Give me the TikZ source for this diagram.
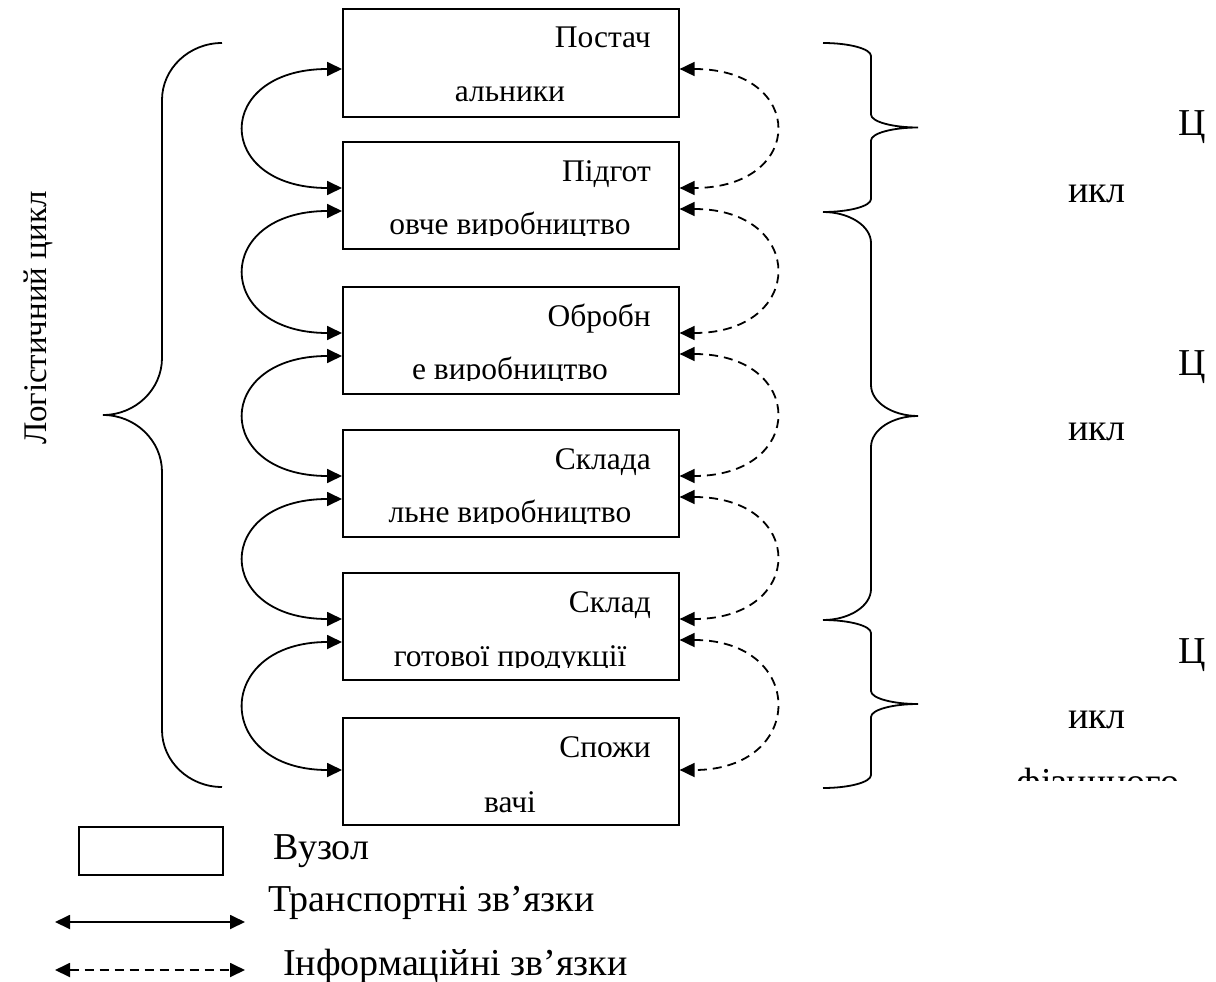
\documentclass[tikz,border=0pt]{standalone}
\usepackage{fontspec}
\setmainfont{Liberation Serif}
\usetikzlibrary{arrows.meta}

% brace: #1 end x, #2 stem x, #3 tip x, #4 top y, #5 bottom y, #6 corner radius
\newcommand\drawcurlybrace[6]{%
  \pgfmathsetmacro\bracemid{(#4+#5)/2}%
  \draw[bracestyle]
    (#1,#4) .. controls ({#1+0.55*(#2-#1)},#4) and (#2,{#4+0.45*#6}) .. (#2,{#4+#6})
    -- (#2,{\bracemid-#6})
    .. controls (#2,{\bracemid-0.45*#6}) and ({#3-0.55*(#3-#2)},\bracemid) .. (#3,\bracemid)
    .. controls ({#3-0.55*(#3-#2)},\bracemid) and (#2,{\bracemid+0.45*#6}) .. (#2,{\bracemid+#6})
    -- (#2,{#5-#6})
    .. controls (#2,{#5-0.45*#6}) and ({#1+0.55*(#2-#1)},#5) .. (#1,#5);%
}

\tikzset{
  nodebox/.style={draw, line width=1.6pt, minimum width=336pt, minimum height=107pt,
    inner sep=0pt, anchor=north west},
  legendbox/.style={draw, line width=1.6pt, minimum width=144pt, minimum height=48pt,
    inner sep=0pt, anchor=north west},
  boxtext/.style={font=\fontsize{31.5}{38}\selectfont, inner sep=0pt},
  bigtext/.style={font=\fontsize{38}{45}\selectfont, inner sep=0pt},
  transport/.style={line width=1.8pt, {Triangle[length=15pt,width=14pt]}-{Triangle[length=15pt,width=14pt]}},
  information/.style={line width=1.8pt, dash pattern=on 9pt off 6pt,
    {Triangle[length=15pt,width=14pt]}-{Triangle[length=15pt,width=14pt]}},
  bracestyle/.style={line width=1.8pt},
}

\begin{document}
\begin{tikzpicture}[x=1pt,y=-1pt]
\useasboundingbox (0,0) rectangle (1216,982);

% nodes of the chain
\node[nodebox, minimum height=108pt] (b1) at (342,8) {};
\node[nodebox] (b2) at (342,141) {};
\node[nodebox] (b3) at (342,286) {};
\node[nodebox] (b4) at (342,429) {};
\node[nodebox] (b5) at (342,572) {};
\node[nodebox] (b6) at (342,717) {};

% first lines, right aligned
\node[boxtext, anchor=base east] (t1a) at (651,48) {Постач};
\node[boxtext, anchor=base east] (t2a) at (651,181) {Підгот};
\node[boxtext, anchor=base east] (t3a) at (651,326) {Обробн};
\node[boxtext, anchor=base east] (t4a) at (651,469) {Склада};
\node[boxtext, anchor=base east] (t5a) at (651,612) {Склад};
\node[boxtext, anchor=base east] (t6a) at (651,757) {Спожи};

% second lines, centred and cut at the inner bottom edge
\begin{scope}
  \clip (342,8) rectangle (678,103);
  \node[boxtext, anchor=base] (t1b) at (510,102) {альники};
\end{scope}
\begin{scope}
  \clip (342,141) rectangle (678,235);
  \node[boxtext, anchor=base] (t2b) at (510,234) {овче виробництво};
\end{scope}
\begin{scope}
  \clip (342,286) rectangle (678,380);
  \node[boxtext, anchor=base] (t3b) at (510,379) {е виробництво};
\end{scope}
\begin{scope}
  \clip (342,429) rectangle (678,523);
  \node[boxtext, anchor=base] (t4b) at (510,522) {льне виробництво};
\end{scope}
\begin{scope}
  \clip (342,572) rectangle (678,667);
  \node[boxtext, anchor=base] (t5b) at (510,666) {готової продукції};
\end{scope}
\begin{scope}
  \clip (342,717) rectangle (678,814);
  \node[boxtext, anchor=base] (t6b) at (510,812) {вачі};
\end{scope}

% transport links (left)
\draw[transport] ([yshift=-61pt]b1.north west) .. controls +(-129,0) and +(-129,0) .. ([yshift=-47pt]b2.north west);
\draw[transport] ([yshift=-70pt]b2.north west) .. controls +(-129,0) and +(-129,0) .. ([yshift=-47pt]b3.north west);
\draw[transport] ([yshift=-70pt]b3.north west) .. controls +(-129,0) and +(-129,0) .. ([yshift=-47pt]b4.north west);
\draw[transport] ([yshift=-70pt]b4.north west) .. controls +(-129,0) and +(-129,0) .. ([yshift=-47pt]b5.north west);
\draw[transport] ([yshift=-70pt]b5.north west) .. controls +(-129,0) and +(-129,0) .. ([yshift=-53pt]b6.north west);

% information links (right)
\draw[information] ([yshift=-61pt]b1.north east) .. controls +(127,0) and +(127,0) .. ([yshift=-47pt]b2.north east);
\draw[information] ([yshift=-68pt]b2.north east) .. controls +(127,0) and +(127,0) .. ([yshift=-47pt]b3.north east);
\draw[information] ([yshift=-68pt]b3.north east) .. controls +(127,0) and +(127,0) .. ([yshift=-47pt]b4.north east);
\draw[information] ([yshift=-68pt]b4.north east) .. controls +(127,0) and +(127,0) .. ([yshift=-47pt]b5.north east);
\draw[information] ([yshift=-68pt]b5.north east) .. controls +(127,0) and +(127,0) .. ([yshift=-53pt]b6.north east);

% logistic cycle brace
\drawcurlybrace{222}{162}{103}{43}{787}{57}
\node[font=\fontsize{33}{40}\selectfont, inner sep=0pt, rotate=90] (lc) at (38,318) {Логістичний цикл};

% sub-cycle braces
\drawcurlybrace{823}{871}{918}{43}{212}{13}
\drawcurlybrace{823}{871}{918}{212}{620}{31}
\drawcurlybrace{823}{871}{918}{620}{788}{13}

\node[bigtext, anchor=base west] (c1a) at (1178,135) {Ц};
\node[bigtext, anchor=base] (c1b) at (1097,202) {икл};
\node[bigtext, anchor=base west] (c2a) at (1178,375) {Ц};
\node[bigtext, anchor=base] (c2b) at (1097,440) {икл};
\node[bigtext, anchor=base west] (c3a) at (1178,663) {Ц};
\node[bigtext, anchor=base] (c3b) at (1097,728) {икл};
\begin{scope}
  \clip (900,740) rectangle (1216,780);
  \node[bigtext, anchor=base] (c3c) at (1098,794) {фізичного};
\end{scope}

% legend
\node[legendbox] (lgbox) at (78,826) {};
\node[bigtext, anchor=base west] (lgnode) at (273,859) {Вузол};
\coordinate (ta) at (55,922);
\coordinate (tb) at (245,922);
\draw[transport] (ta) -- (tb);
\node[bigtext, anchor=base west] (lgtrans) at (268,911) {Транспортні зв’язки};
\coordinate (ia) at (55,970);
\coordinate (ib) at (245,970);
\draw[information] (ia) -- (ib);
\node[bigtext, anchor=base west] (lginfo) at (283,975) {Інформаційні зв’язки};
\end{tikzpicture}
\end{document}
